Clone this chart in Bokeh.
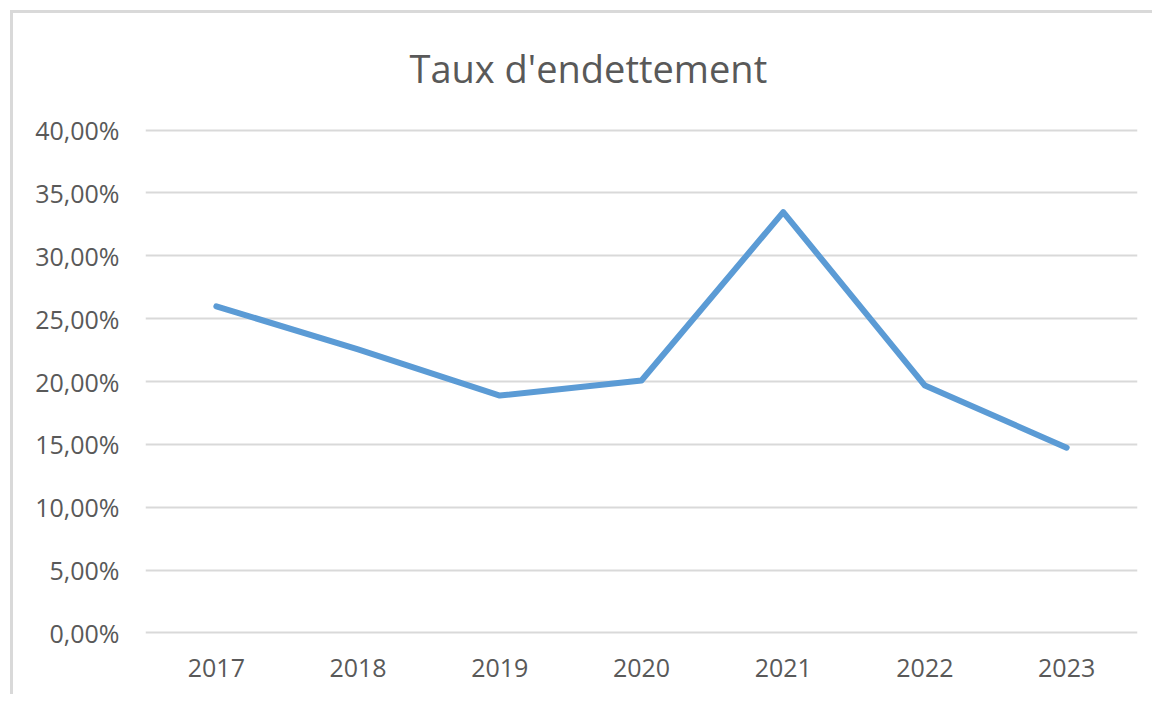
from bokeh.plotting import figure
from bokeh.models import CustomJSTickFormatter, FixedTicker
from bokeh.embed import file_html
from bokeh.resources import INLINE

years = ["2017", "2018", "2019", "2020", "2021", "2022", "2023"]
taux = [0.2598, 0.2255, 0.1888, 0.2008, 0.3347, 0.1968, 0.1474]
y_ticks = [0.0, 0.05, 0.10, 0.15, 0.20, 0.25, 0.30, 0.35, 0.40]
title_text = "Taux d'endettement"

FONT = "Open Sans"
GREY_TXT = "#595959"

p = figure(width=1152, height=694, x_range=years, y_range=(-0.0012, 0.4012),
           output_backend="svg", toolbar_location=None,
           min_border_left=145, min_border_right=15,
           min_border_top=128, min_border_bottom=60)

p.title.text = title_text
p.title.align = "left"
p.title.text_font = FONT
p.title.text_font_style = "normal"
p.title.text_font_size = "38px"
p.title.text_color = GREY_TXT
p.title.offset = 264
p.title.standoff = 70

p.line(x=years, y=taux, line_width=6, line_color="#5B9BD5", line_join="round", line_cap="round")

p.outline_line_color = None
p.border_fill_color = None
p.xgrid.grid_line_color = None
p.ygrid.grid_line_color = "#d9d9d9"
p.ygrid.grid_line_width = 2
p.styles = {"box-shadow": "inset 10px 10px 0 0 #ffffff, inset 13px 13px 0 0 #d9d9d9"}

p.yaxis.ticker = FixedTicker(ticks=y_ticks)
p.yaxis.formatter = CustomJSTickFormatter(code="return (tick*100).toFixed(2).replace('.', ',') + '%';")
for ax in (p.xaxis[0], p.yaxis[0]):
    ax.axis_line_color = None
    ax.major_tick_line_color = None
    ax.minor_tick_line_color = None
    ax.major_label_text_font = FONT
    ax.major_label_text_font_size = "25px"
    ax.major_label_text_color = GREY_TXT
p.yaxis.major_label_standoff = 20
p.xaxis.major_label_standoff = 18

open("out.html", "w").write(file_html(p, INLINE))
